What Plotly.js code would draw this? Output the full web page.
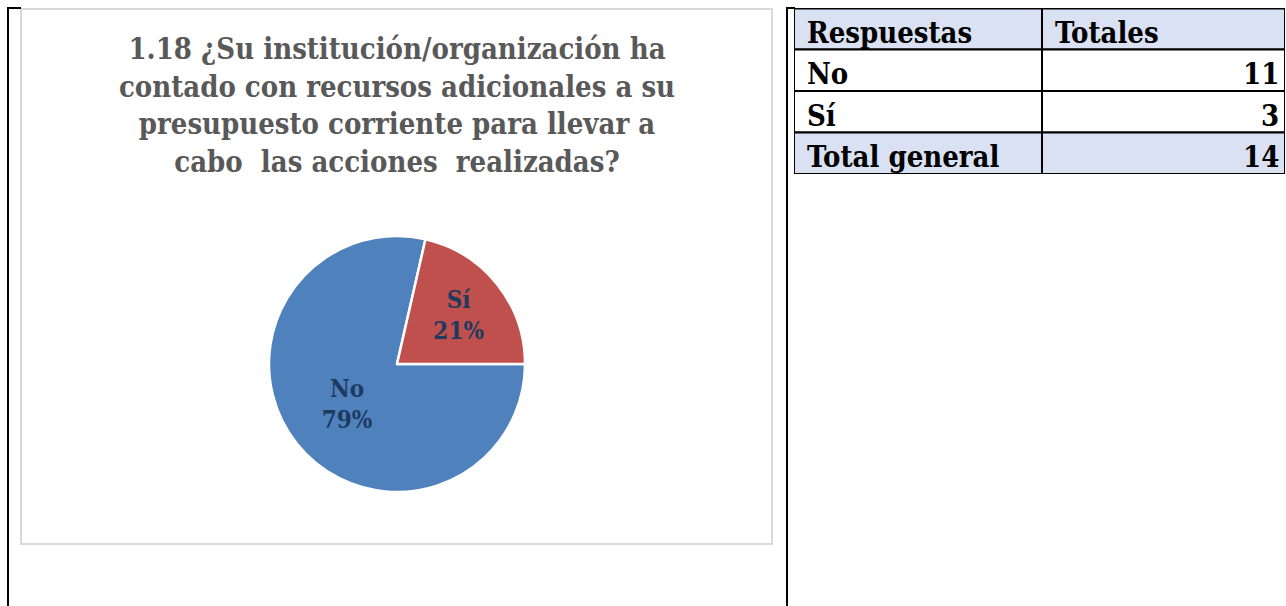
<!DOCTYPE html>
<html>
<head>
<meta charset="utf-8">
<script src="https://cdn.plot.ly/plotly-3.0.1.min.js"></script>
<style>
html,body{margin:0;padding:0;background:#fff;}
#chart{width:1286px;height:606px;}
</style>
</head>
<body>
<div id="chart"></div>
<script>
// Data
var categories = ['No', 'Sí'];
var counts = [11, 3];
var tableHeader = ['Respuestas', 'Totales'];
var tableLabels = ['No', 'Sí', 'Total general'];
var tableTotals = [11, 3, 14];
var chartTitle = '1.18 ¿Su institución/organización ha<br>contado con recursos adicionales a su<br>presupuesto corriente para llevar a<br>cabo  las acciones  realizadas?';

var W = 1286, H = 606;
function px(x){ return x / W; }
function py(y){ return 1 - y / H; }

var serif = 'DejaVu Serif Condensed, DejaVu Serif, serif';
var blueFill = '#D9E1F2';

var pie = {
  type: 'pie',
  labels: categories,
  values: counts,
  sort: false,
  direction: 'clockwise',
  rotation: 90,
  marker: { colors: ['#4F81BD', '#C0504D'], line: { color: '#ffffff', width: 2.5 } },
  texttemplate: '<b>%{label}<br>%{percent:.0%}</b>',
  textposition: 'inside',
  insidetextorientation: 'horizontal',
  textfont: { family: serif, size: 24, color: '#1F3A5F' },
  hoverinfo: 'label+value+percent',
  showlegend: false,
  domain: { x: [px(269), px(525)], y: [py(492), py(236)] }
};

// Table drawn on an auxiliary axis pair: x in column-width units, y in row index
var colWidths = [248, 243];
var rows = [tableHeader].concat(tableLabels.map(function(l, i){ return [l, String(tableTotals[i])]; }));
var nRows = rows.length;
var colEdges = [0, colWidths[0], colWidths[0] + colWidths[1]];
var shapes = [];
var annotations = [];
rows.forEach(function(r, i){
  var filled = (i === 0 || i === nRows - 1);
  for (var c = 0; c < 2; c++) {
    shapes.push({ type: 'rect', xref: 'x', yref: 'y', x0: colEdges[c], x1: colEdges[c + 1], y0: i, y1: i + 1,
      fillcolor: filled ? blueFill : '#ffffff', line: { color: '#000000', width: 2 }, layer: 'below' });
    var rightAlign = (c === 1 && i > 0);
    annotations.push({ xref: 'x', yref: 'y', x: rightAlign ? colEdges[c + 1] - 4 : colEdges[c] + 11, y: i + 0.6,
      text: '<b>' + r[c] + '</b>', showarrow: false, xanchor: rightAlign ? 'right' : 'left', yanchor: 'middle',
      font: { family: serif, size: 29, color: '#000000' } });
  }
});
// thicker outer top border
shapes.push({ type: 'line', xref: 'x', yref: 'y', x0: 0, x1: colEdges[2], y0: 0, y1: 0, line: { color: '#000', width: 3 } });

// page frame lines and chart box
shapes.push(
  { type: 'line', xref: 'paper', yref: 'paper', x0: px(8), x1: px(8), y0: py(7), y1: py(606), line: { color: '#000', width: 2 } },
  { type: 'line', xref: 'paper', yref: 'paper', x0: px(7), x1: px(21), y0: py(8), y1: py(8), line: { color: '#000', width: 2 } },
  { type: 'line', xref: 'paper', yref: 'paper', x0: px(787), x1: px(787), y0: py(7), y1: py(606), line: { color: '#000', width: 2 } },
  { type: 'line', xref: 'paper', yref: 'paper', x0: px(786), x1: px(795), y0: py(8), y1: py(8), line: { color: '#000', width: 2 } },
  { type: 'rect', xref: 'paper', yref: 'paper', x0: px(21), x1: px(772), y0: py(544), y1: py(9), line: { color: '#D9D9D9', width: 2 }, fillcolor: 'rgba(0,0,0,0)', layer: 'below' }
);

var layout = {
  width: W, height: H,
  margin: { l: 0, r: 0, t: 0, b: 0 },
  paper_bgcolor: '#ffffff',
  plot_bgcolor: 'rgba(0,0,0,0)',
  title: {
    text: '<b>' + chartTitle + '</b>',
    font: { family: serif, size: 29, color: '#595959' },
    x: px(397), xanchor: 'center', xref: 'paper',
    y: py(59), yanchor: 'top', yref: 'paper'
  },
  xaxis: { domain: [px(794), px(1285)], range: [0, colEdges[2]], visible: false, fixedrange: true },
  yaxis: { domain: [py(174), py(8)], range: [nRows, 0], visible: false, fixedrange: true },
  shapes: shapes,
  annotations: annotations,
  showlegend: false
};

Plotly.newPlot('chart', [pie], layout, { displayModeBar: false });
</script>
</body>
</html>
